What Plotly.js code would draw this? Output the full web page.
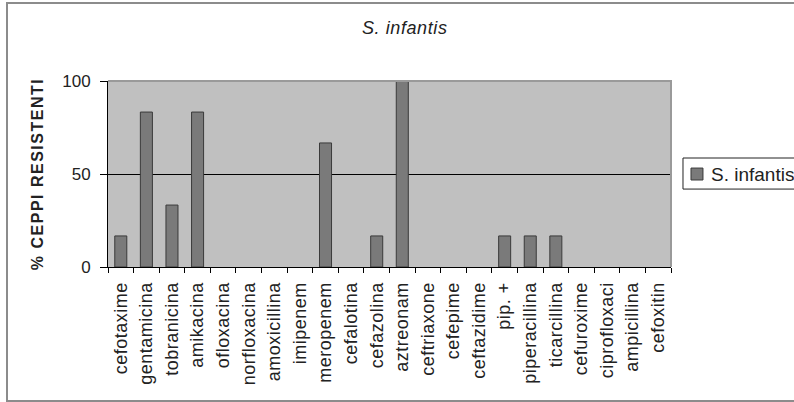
<!DOCTYPE html>
<html>
<head>
<meta charset="utf-8">
<script src="https://cdn.plot.ly/plotly-3.0.1.min.js"></script>
<style>
  html, body { margin: 0; padding: 0; background: #ffffff; overflow: hidden; }
  #wrap { position: relative; width: 794px; height: 402px; overflow: hidden; }
  #chart { position: absolute; left: 0; top: 0; width: 794px; height: 402px; }
  #frame {
    position: absolute; left: 6px; top: 2px; width: 1000px; height: 396px;
    border: 2px solid #8c8c8c; pointer-events: none;
  }
  /* slightly looser tracking, as in the printed figure */
  #chart .xtick text { letter-spacing: 0.5px; }
  #chart .gtitle { letter-spacing: 0.6px; }
  #chart .ytitle { letter-spacing: 1.5px; }
</style>
</head>
<body>
<div id="wrap">
  <div id="chart"></div>
  <div id="frame"></div>
</div>
<script>
// Antibiotics tested, in display order
const antibiotics = [
  "cefotaxime", "gentamicina", "tobranicina", "amikacina", "ofloxacina",
  "norfloxacina", "amoxicillina", "imipenem", "meropenem", "cefalotina",
  "cefazolina", "aztreonam", "ceftriaxone", "cefepime", "ceftazidime",
  "pip. +", "piperacillina", "ticarcillina", "cefuroxime", "ciprofloxaci",
  "ampicillina", "cefoxitin"
];

// Percentage of resistant strains for each antibiotic
const resistantPct = [
  16.7, 83.3, 33.3, 83.3, 0,
  0, 0, 0, 66.7, 0,
  16.7, 100, 0, 0, 0,
  16.7, 16.7, 16.7, 0, 0,
  0, 0
];

const seriesName = "S. infantis";
const yTicks = [0, 50, 100];

const textFont = "Liberation Sans, Arial, Helvetica, sans-serif";
const barFill = "#7a7a7a";
const barEdge = "#3a3a3a";

const trace = {
  type: "bar",
  name: seriesName,
  x: antibiotics,
  y: resistantPct,
  marker: {
    color: barFill,
    // no outline on empty bars, so nothing shows at zero
    line: { color: barEdge, width: resistantPct.map(v => (v > 0 ? 1 : 0)) }
  },
  showlegend: false,
  hoverinfo: "x+y"
};

// Legend key to the right of the plot, drawn as a boxed swatch + label
const legendShapes = [
  {
    type: "rect", xref: "paper", yref: "paper",
    x0: 1.0213, x1: 1.26, y0: 0.419, y1: 0.586,
    line: { color: "#222222", width: 1 },
    fillcolor: "#ffffff", layer: "above"
  },
  {
    type: "rect", xref: "paper", yref: "paper",
    x0: 1.0355, x1: 1.0568, y0: 0.4677, y1: 0.532,
    line: { color: barEdge, width: 1 },
    fillcolor: barFill, layer: "above"
  }
];

const layout = {
  width: 794,
  height: 402,
  margin: { l: 108, r: 123, t: 81, b: 135, pad: 0 },
  paper_bgcolor: "#ffffff",
  plot_bgcolor: "#c0c0c0",
  bargap: 0.53,
  showlegend: false,
  font: { family: textFont, color: "#222222" },
  title: {
    text: "<i>S. infantis</i>",
    font: { family: textFont, size: 18, color: "#222222" },
    xref: "paper", x: 0.527, xanchor: "center",
    yref: "container", y: 0.93, yanchor: "middle"
  },
  xaxis: {
    type: "category",
    tickson: "boundaries",
    ticks: "outside",
    ticklen: 5,
    tickcolor: "#000000",
    tickwidth: 1,
    showline: true,
    linecolor: "#000000",
    linewidth: 1,
    showgrid: false,
    zeroline: false,
    tickangle: -90,
    ticklabelstandoff: 7,
    tickfont: { family: textFont, size: 18, color: "#222222" },
    fixedrange: true
  },
  yaxis: {
    range: [0, 100],
    tickvals: yTicks,
    ticktext: yTicks.map(String),
    ticks: "outside",
    ticklen: 7,
    tickcolor: "#000000",
    tickwidth: 1,
    showline: true,
    linecolor: "#000000",
    linewidth: 1,
    showgrid: true,
    gridcolor: "#000000",
    gridwidth: 1,
    zeroline: false,
    ticklabelstandoff: 6,
    tickfont: { family: textFont, size: 17, color: "#222222" },
    title: {
      text: "<b>% CEPPI RESISTENTI</b>",
      font: { family: textFont, size: 16, color: "#222222" },
      standoff: 14
    },
    fixedrange: true
  },
  annotations: [
    {
      text: seriesName,
      xref: "paper", yref: "paper",
      x: 1.0675, xanchor: "left",
      y: 0.5, yanchor: "middle",
      showarrow: false,
      font: { family: textFont, size: 19, color: "#222222" }
    }
  ],
  shapes: [
    {
      // grey edge along the top and right of the plotting area
      type: "path", xref: "paper", yref: "paper",
      path: "M 0 1 L 1 1 L 1 0",
      line: { color: "#9a9a9a", width: 2 },
      layer: "above"
    }
  ].concat(legendShapes)
};

Plotly.newPlot("chart", [trace], layout, { displayModeBar: false, staticPlot: true });
</script>
</body>
</html>
